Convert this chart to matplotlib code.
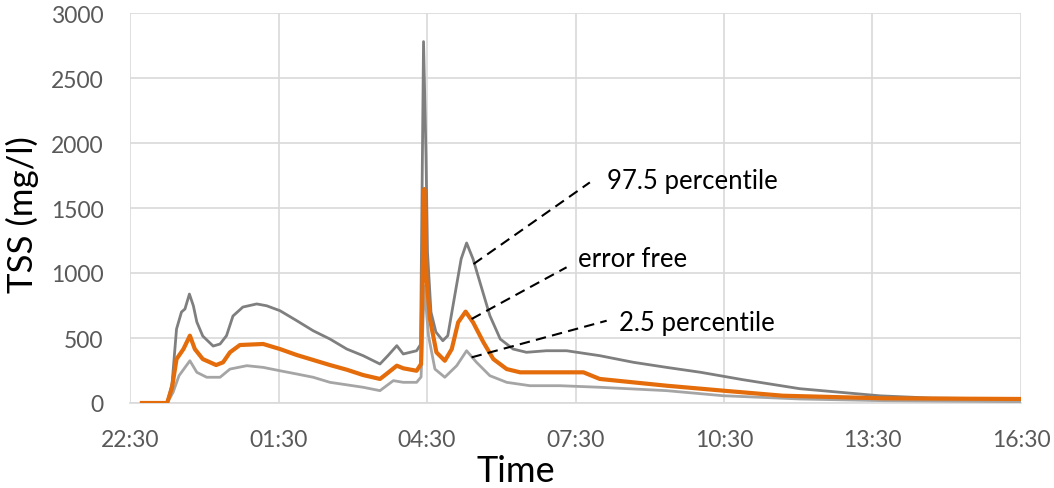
import matplotlib
matplotlib.use('Agg')
import matplotlib.pyplot as plt

# hours after 22:30 (mg/l)
upper_t = [0.24, 0.75, 0.85, 0.94, 1.04, 1.11, 1.20, 1.28, 1.35, 1.47, 1.68, 1.82, 1.95, 2.08,
           2.28, 2.56, 2.76, 3.03, 3.37, 3.70, 4.04, 4.38, 4.71, 5.05, 5.21, 5.39, 5.52, 5.79,
           5.87, 5.93, 5.98, 6.01, 6.08, 6.18, 6.32, 6.42, 6.56, 6.69, 6.80, 6.93, 7.07, 7.27,
           7.48, 7.74, 8.01, 8.41, 8.82, 9.49, 10.17, 10.84, 11.53, 12.37, 13.53, 15.16, 16.18, 17.99]
upper_v = [0, 0, 150, 569, 700, 723, 838, 748, 623, 515, 438, 454, 518, 669,
           738, 762, 748, 710, 633, 556, 492, 415, 364, 300, 364, 441, 377, 402,
           450, 2780, 1900, 1159, 700, 546, 479, 518, 825, 1108, 1231, 1108, 928, 672,
           492, 415, 390, 402, 402, 364, 313, 274, 236, 180, 110, 55, 38, 31]

free_t = [0.24, 0.75, 0.85, 0.94, 1.08, 1.21, 1.31, 1.47, 1.74, 1.88, 2.02, 2.22, 2.69, 3.03,
          3.37, 3.70, 4.04, 4.38, 4.71, 5.05, 5.18, 5.39, 5.52, 5.79, 5.88, 5.945, 5.99,
          6.06, 6.19, 6.36, 6.50, 6.63, 6.78, 6.93, 7.14, 7.34, 7.61, 7.88, 8.69, 9.16,
          9.49, 10.84, 11.98, 13.19, 15.22, 17.99]
free_v = [0, 0, 120, 338, 415, 518, 415, 338, 292, 313, 390, 446, 454, 415,
          369, 331, 292, 256, 215, 185, 223, 287, 267, 248, 300, 1646, 954,
          646, 390, 325, 415, 621, 703, 621, 467, 338, 261, 236, 236, 236,
          185, 133, 95, 56, 36, 31]

low_t = [0.24, 0.75, 0.87, 0.99, 1.21, 1.35, 1.55, 1.82, 2.02, 2.36, 2.69, 3.03, 3.37, 3.70,
         4.04, 4.71, 5.05, 5.32, 5.52, 5.79, 5.88, 5.945, 6.03, 6.16, 6.36, 6.60, 6.80,
         7.00, 7.27, 7.61, 8.08, 8.69, 9.49, 10.84, 11.98, 13.53, 15.22, 17.99]
low_v = [0, 0, 82, 210, 325, 236, 198, 198, 261, 287, 274, 248, 223, 198,
         159, 121, 95, 172, 159, 159, 200, 902, 518, 261, 198, 287, 402,
         313, 210, 159, 133, 133, 121, 95, 56, 31, 18, 10]

tick_pos = [0, 3, 6, 9, 12, 15, 18]
tick_lab = ["22:30", "01:30", "04:30", "07:30", "10:30", "13:30", "16:30"]

# annotation lines: (line start, line end, text position, text)
notes = [((6.94, 1069), (9.29, 1697), (9.63, 1710), "97.5 percentile"),
         ((6.90, 646), (8.82, 1044), (9.06, 1108), "error free"),
         ((6.90, 351), (9.63, 633), (9.88, 621), "2.5 percentile")]

plt.rcParams['font.family'] = ['Lato', 'DejaVu Sans']

fig = plt.figure(figsize=(10.54, 4.89), dpi=100)
ax = fig.add_axes([130/1054, 85/489, 891/1054, 390/489])

grid_c = "#d9d9d9"
ax.plot(low_t, low_v, color="#a5a5a5", lw=2.0, zorder=3)
ax.plot(upper_t, upper_v, color="#7f7f7f", lw=2.0, zorder=4)
ax.plot(free_t, free_v, color="#e46c0a", lw=3.0, zorder=5)

for (x0, y0), (x1, y1), (tx, ty), txt in notes:
  ax.plot([x0, x1], [y0, y1], color="k", lw=1.5, ls=(0, (5, 3)), zorder=6)
  ax.text(tx, ty, txt, fontsize=18.5, va="center", ha="left", color="k", zorder=7)

ax.set_xlim(0, 18)
ax.set_ylim(0, 3000)
ax.set_xticks(tick_pos)
ax.set_xticklabels(tick_lab)
ax.set_yticks(range(0, 3001, 500))
ax.grid(True, color=grid_c, lw=1.2, zorder=0)
ax.set_axisbelow(True)
for s in ["top", "right", "left"]:
  ax.spines[s].set_visible(False)
ax.spines["bottom"].set_color(grid_c)
ax.spines["bottom"].set_linewidth(1.2)
ax.tick_params(axis='both', length=0, labelsize=16.5, labelcolor="#595959")
ax.tick_params(axis='x', pad=19)
ax.tick_params(axis='y', pad=19)
ax.set_ylabel("TSS (mg/l)", fontsize=25, color="k", va="center")
ax.yaxis.set_label_coords((22-130)/891, 0.485)
ax.set_xlabel("Time", fontsize=26, color="k", va="center")
ax.xaxis.set_label_coords((516-130)/891, (404-472)/390)

fig.savefig("out.png", dpi=100)
